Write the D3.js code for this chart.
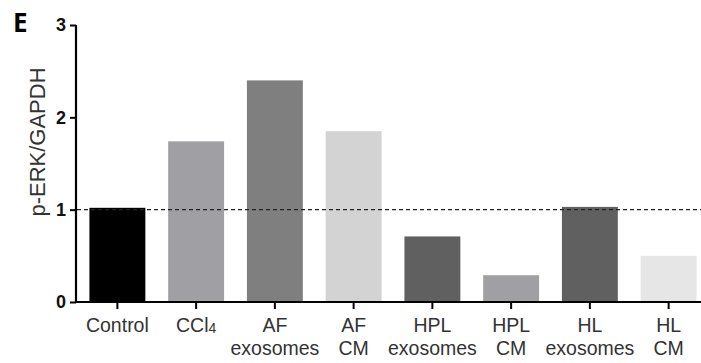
<!DOCTYPE html>
<html>
<head>
<meta charset="utf-8">
<script src="https://cdn.jsdelivr.net/npm/d3@7/dist/d3.min.js"></script>
<style>
  html, body { margin: 0; padding: 0; background: #fff; }
  svg { display: block; }
</style>
</head>
<body>
<svg id="chart" width="701" height="363"></svg>
<script>
// Group names (two-line labels), measured ratios and bar fills
const groups = ["Control", "CCl4", "AF exosomes", "AF CM", "HPL exosomes", "HPL CM", "HL exosomes", "HL CM"];
const labelLines = [["Control"], ["CCl4"], ["AF", "exosomes"], ["AF", "CM"], ["HPL", "exosomes"], ["HPL", "CM"], ["HL", "exosomes"], ["HL", "CM"]];
const values = [1.02, 1.74, 2.40, 1.85, 0.71, 0.29, 1.03, 0.50];
const fills = ["#000000", "#a09fa3", "#7f7f7f", "#d3d3d3", "#606060", "#a09fa3", "#606060", "#e6e6e6"];
const yTicks = [0, 1, 2, 3];
const refLevel = 1;

const svg = d3.select("#chart");
const W = 701;

const x = d3.scaleBand()
  .domain(groups)
  .range([78, 708])
  .paddingInner(0.29)
  .paddingOuter(0.145);

const y = d3.scaleLinear()
  .domain([0, 3])
  .range([302, 25]);

// Bars
svg.append("g")
  .selectAll("rect")
  .data(groups)
  .join("rect")
  .attr("x", d => x(d))
  .attr("y", (d, i) => y(values[i]))
  .attr("width", x.bandwidth())
  .attr("height", (d, i) => y(0) - y(values[i]))
  .attr("fill", (d, i) => fills[i]);

// Reference line at ratio 1
svg.append("line")
  .attr("x1", 77).attr("x2", W)
  .attr("y1", y(refLevel)).attr("y2", y(refLevel))
  .attr("stroke", "#222")
  .attr("stroke-width", 1.3)
  .attr("stroke-dasharray", "4,3");

// Y axis
const yAxis = svg.append("g")
  .attr("transform", "translate(76,0)")
  .call(d3.axisLeft(y).tickValues(yTicks).tickFormat(d3.format("d")).tickSize(6).tickPadding(4));
yAxis.select(".domain").attr("d", `M0,${y(3)}V${y(0) + 1}`).attr("stroke-width", 2.2);
yAxis.selectAll(".tick line").attr("stroke-width", 2);
yAxis.selectAll(".tick text")
  .attr("font-family", "Liberation Sans, Arial, sans-serif")
  .attr("font-weight", "bold")
  .attr("font-size", 18)
  .attr("fill", "#111");

// X axis
const xAxis = svg.append("g")
  .attr("transform", `translate(0,${y(0)})`)
  .call(d3.axisBottom(x).tickSize(7).tickFormat(""));
xAxis.select(".domain").attr("d", `M75,0H${W}`).attr("stroke-width", 2.2);
xAxis.selectAll(".tick line").attr("stroke-width", 2);

// Category labels, one or two lines each
const lab = svg.append("g")
  .attr("font-family", "Liberation Sans, Arial, sans-serif")
  .attr("font-size", 19.5)
  .attr("fill", "#333")
  .attr("text-anchor", "middle");

groups.forEach((g, i) => {
  const cx = x(g) + x.bandwidth() / 2;
  labelLines[i].forEach((line, j) => {
    const t = lab.append("text")
      .attr("x", cx)
      .attr("y", 332 + j * 22.6);
    if (line === "CCl4") {
      t.append("tspan").text("CCl");
      t.append("tspan").attr("font-size", 14).attr("dy", 1).text("4");
    } else {
      t.text(line);
    }
  });
});

// Y axis title
svg.append("text")
  .attr("transform", "translate(45,142) rotate(-90)")
  .attr("text-anchor", "middle")
  .attr("font-family", "Liberation Sans, Arial, sans-serif")
  .attr("font-size", 22)
  .attr("fill", "#333")
  .text("p-ERK/GAPDH");

// Panel letter
svg.append("text")
  .attr("x", 13)
  .attr("y", 32)
  .attr("font-family", "Open Sans, Liberation Sans, sans-serif")
  .attr("font-weight", "bold")
  .attr("font-size", 26)
  .attr("fill", "#000")
  .text("E");
</script>
</body>
</html>
